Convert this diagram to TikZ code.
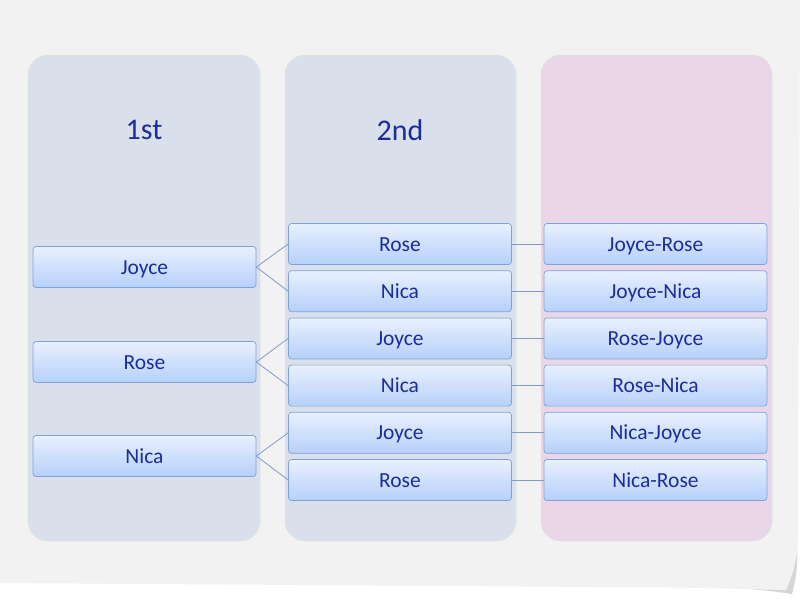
\documentclass[tikz,border=0pt]{standalone}
\usepackage{fontspec}
\setmainfont{Carlito}
\usetikzlibrary{positioning}

\definecolor{paper}{HTML}{F2F2F2}
\definecolor{curlshade}{HTML}{D6D6D6}
\definecolor{colblue}{HTML}{D9E0EC}
\definecolor{colpink}{HTML}{E9D6E9}
\definecolor{namecol}{HTML}{1C2D99}
\definecolor{boxline}{HTML}{7FA2D6}
\definecolor{boxtop}{HTML}{E8F0FE}
\definecolor{boxbot}{HTML}{B6D0FA}
\definecolor{linkcol}{HTML}{7E9CCB}

\tikzset{
  column/.style={rounded corners=20pt, draw=black!12, line width=0.5pt},
  heading/.style={text=namecol, font=\fontsize{30}{32}\selectfont},
  namebox/.style={draw=boxline, line width=0.7pt, rounded corners=3pt,
    top color=boxtop, bottom color=boxbot, minimum width=223pt,
    minimum height=41pt, inner sep=0pt, text=namecol,
    text height=16pt, text depth=2pt,
    font=\fontsize{21.5}{24}\selectfont},
  link/.style={draw=linkcol, line width=0.8pt}
}

\begin{document}
\begin{tikzpicture}[x=1pt,y=-1pt]
\useasboundingbox (0,0) rectangle (800,600);

% paper with curled corner
\fill[white] (0,0) rectangle (800,600);
\fill[curlshade] (700,586) .. controls (750,588) and (780,592) .. (792,594)
  .. controls (796,580) and (798,565) .. (797,545) -- cycle;
\fill[paper] (0,0) -- (800,0) -- (798,540)
  .. controls (797,560) and (793,575) .. (786,590)
  .. controls (740,589) and (680,587) .. (600,587) -- (0,583) -- cycle;

% columns
\path[column, fill=colblue] (28,55) rectangle (260,541);
\path[column, fill=colblue] (285,55) rectangle (516,541);
\path[column, fill=colpink] (541,55) rectangle (772,541);

\node[heading] (head1) at (144,130) {1st};
\node[heading] (head2) at (400,130) {2nd};

% first column
\node[namebox] (f1) at (144.5,267) {Joyce};
\node[namebox] (f2) at (144.5,362) {Rose};
\node[namebox] (f3) at (144.5,456) {Nica};

% second and third column
\foreach \i/\second/\pair in {1/Rose/Joyce-Rose, 2/Nica/Joyce-Nica,
    3/Joyce/Rose-Joyce, 4/Nica/Rose-Nica,
    5/Joyce/Nica-Joyce, 6/Rose/Nica-Rose} {
  \node[namebox] (s\i) at ({400},{244+(\i-1)*47.2}) {\second};
  \node[namebox] (t\i) at ({655.5},{244+(\i-1)*47.2}) {\pair};
  \draw[link] (s\i.east) -- (t\i.west);
}

% branches
\draw[link] (f1.east) -- (s1.west);
\draw[link] (f1.east) -- (s2.west);
\draw[link] (f2.east) -- (s3.west);
\draw[link] (f2.east) -- (s4.west);
\draw[link] (f3.east) -- (s5.west);
\draw[link] (f3.east) -- (s6.west);

\end{tikzpicture}
\end{document}
